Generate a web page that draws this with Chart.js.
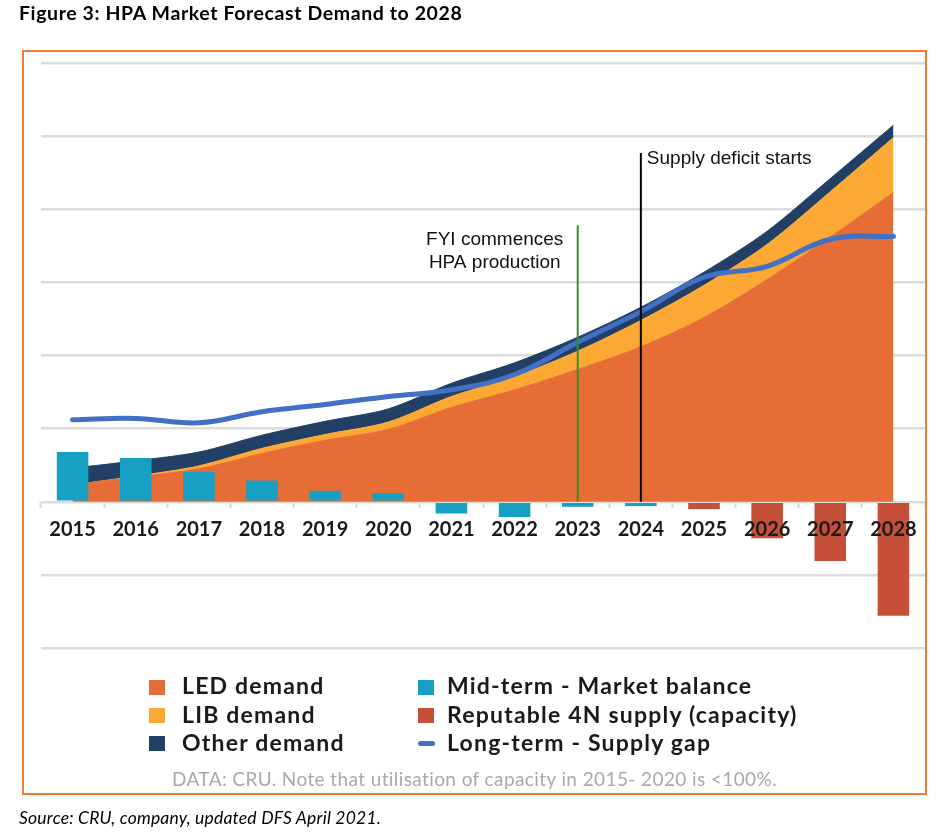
<!DOCTYPE html>
<html>
<head>
<meta charset="utf-8">
<script src="https://cdn.jsdelivr.net/npm/chart.js@4.4.1/dist/chart.umd.min.js"></script>
<style>
  html, body { margin: 0; padding: 0; background: #ffffff; }
  body { width: 948px; height: 833px; position: relative; overflow: hidden; font-family: Lato, "Open Sans", sans-serif; }
  #c { position: absolute; left: 0; top: 0; }
  .txt { position: absolute; white-space: nowrap; line-height: 1; }
  #frame { position: absolute; left: 22px; top: 50px; width: 905px; height: 745px; box-sizing: border-box; border: 2px solid #ED7D31; }
  #title { left: 19px; top: 3px; font-size: 19.5px; font-weight: 700; color: #000; letter-spacing: 0.6px; }
  #source { left: 19px; top: 809px; font-size: 17.5px; font-style: italic; color: #000; letter-spacing: 0.2px; }
  #note { left: 22px; width: 905px; text-align: center; top: 769px; font-size: 19px; color: #A9A9A9; letter-spacing: 0.4px; }
  .lg-text { position: absolute; white-space: nowrap; line-height: 1; font-size: 23px; font-weight: 700; color: #1a1a1a; letter-spacing: 1.2px; }
  .lg-box { position: absolute; }
</style>
</head>
<body>
<canvas id="c" width="948" height="833"></canvas>
<div id="frame"></div>
<div class="txt" id="title">Figure 3: HPA Market Forecast Demand to 2028</div>
<div id="legend"></div>
<div class="txt" id="note">DATA: CRU. Note that utilisation of capacity in 2015- 2020 is &lt;100%.</div>
<div class="txt" id="source">Source: CRU, company, updated DFS April 2021.</div>
<script>
// ---- data (one grid step = 1 unit) ----
const categories = ['2015','2016','2017','2018','2019','2020','2021','2022','2023','2024','2025','2026','2027','2028'];
const ledDemand   = [0.23, 0.34, 0.45, 0.66, 0.84, 0.99, 1.29, 1.53, 1.81, 2.12, 2.52, 3.04, 3.62, 4.23];
const libDemand   = [0.00, 0.01, 0.04, 0.07, 0.08, 0.10, 0.15, 0.18, 0.25, 0.36, 0.44, 0.48, 0.62, 0.75];
const otherDemand = [0.23, 0.21, 0.19, 0.18, 0.18, 0.18, 0.18, 0.19, 0.19, 0.18, 0.18, 0.18, 0.18, 0.17];
const midTermBalance  = [0.68, 0.60, 0.41, 0.29, 0.15, 0.12, -0.16, -0.21, -0.07, -0.06, null, null, null, null];
const reputableSupply = [null, null, null, null, null, null, null, null, null, null, -0.10, -0.50, -0.81, -1.56];
const supplyGap   = [1.12, 1.14, 1.08, 1.23, 1.33, 1.44, 1.53, 1.74, 2.18, 2.60, 3.07, 3.22, 3.59, 3.63];
const seriesLabels = ['LED demand', 'LIB demand', 'Other demand', 'Mid-term - Market balance', 'Reputable 4N supply (capacity)', 'Long-term - Supply gap'];
const markerYears = ['2023', '2024'];
const markerTops  = [3.78, 4.77];
const markerTexts = [['FYI commences', 'HPA production'], ['Supply deficit starts']];
const yTicksRange = [-2, 6];

// ---- styles ----
const colors = {
  led: '#E76D36', lib: '#FBA834', other: '#223F66',
  mid: '#16A0C3', rep: '#C64F39', gap: '#4170C4'
};
const markerStyles = [
  { color: '#3C8C2A', align: 'center', dx: -83, dy: 20 },
  { color: '#000000', align: 'left', dx: 6, dy: 11 }
];

const markersPlugin = {
  id: 'markers',
  afterDatasetsDraw(chart) {
    const { ctx, scales: { x, y } } = chart;
    markerYears.forEach((yr, i) => {
      const st = markerStyles[i];
      const px = x.getPixelForValue(categories.indexOf(yr));
      const top = y.getPixelForValue(markerTops[i]);
      const bottom = y.getPixelForValue(0);
      ctx.save();
      ctx.strokeStyle = st.color;
      ctx.lineWidth = 2;
      ctx.beginPath();
      ctx.moveTo(px, top);
      ctx.lineTo(px, bottom);
      ctx.stroke();
      ctx.fillStyle = '#111111';
      ctx.font = '19px "Liberation Sans", Arial, sans-serif';
      ctx.textAlign = st.align;
      ctx.textBaseline = 'alphabetic';
      markerTexts[i].forEach((t, k) => ctx.fillText(t, px + st.dx, top + st.dy + k * 23));
      ctx.restore();
    });
  }
};

const areaDs = (label, data, color, fill) => ({
  type: 'line', label, data, fill,
  backgroundColor: color, borderColor: color, borderWidth: 1,
  pointRadius: 0, pointHoverRadius: 0, tension: 0.3, order: 2, stack: 'demand'
});

new Chart(document.getElementById('c'), {
  type: 'bar',
  data: {
    labels: categories,
    datasets: [
      areaDs(seriesLabels[0], ledDemand, colors.led, 'origin'),
      areaDs(seriesLabels[1], libDemand, colors.lib, '-1'),
      areaDs(seriesLabels[2], otherDemand, colors.other, '-1'),
      { type: 'bar', label: seriesLabels[3], data: midTermBalance, backgroundColor: colors.mid,
        stack: 'balance', order: 1, categoryPercentage: 1, barPercentage: 0.5 },
      { type: 'bar', label: seriesLabels[4], data: reputableSupply, backgroundColor: colors.rep,
        stack: 'balance', order: 1, categoryPercentage: 1, barPercentage: 0.5 },
      { type: 'line', label: seriesLabels[5], data: supplyGap, borderColor: colors.gap, backgroundColor: colors.gap,
        borderWidth: 5, fill: false, pointRadius: 0, pointHoverRadius: 0, tension: 0.4,
        borderCapStyle: 'round', borderJoinStyle: 'round', stack: 'gap', order: 0 }
    ]
  },
  options: {
    responsive: false,
    animation: false,
    devicePixelRatio: 1,
    layout: { padding: { left: 41, right: 23, top: 63, bottom: 185 } },
    plugins: { legend: { display: false }, tooltip: { enabled: false }, title: { display: false } },
    scales: {
      x: {
        type: 'category', offset: true, position: { y: 0 },
        grid: { display: true, drawOnChartArea: false, drawTicks: true, tickLength: 6, tickWidth: 2, tickColor: '#D9D9D9', offset: true },
        border: { display: false },
        ticks: { z: 1, padding: 10, color: '#1a1a1a', autoSkip: false, maxRotation: 0,
          font: { family: 'Lato', weight: 'bold', size: 20 } }
      },
      y: {
        stacked: true, min: yTicksRange[0], max: yTicksRange[1],
        ticks: { display: false, stepSize: 1 },
        grid: { color: '#DCDCDC', lineWidth: 2.5, drawTicks: false },
        border: { display: false }
      }
    }
  },
  plugins: [markersPlugin]
});

// ---- HTML legend (two columns, three rows) ----
const legendItems = [
  { label: seriesLabels[0], color: colors.led, col: 0, row: 0, kind: 'box' },
  { label: seriesLabels[1], color: colors.lib, col: 0, row: 1, kind: 'box' },
  { label: seriesLabels[2], color: colors.other, col: 0, row: 2, kind: 'box' },
  { label: seriesLabels[3], color: colors.mid, col: 1, row: 0, kind: 'box' },
  { label: seriesLabels[4], color: colors.rep, col: 1, row: 1, kind: 'box' },
  { label: seriesLabels[5], color: colors.gap, col: 1, row: 2, kind: 'dash' }
];
const colBoxX = [149, 418], colTextX = [182, 447];
const rowBaseline = [694.7, 723, 751.3];
const legendEl = document.getElementById('legend');
legendItems.forEach(it => {
  const box = document.createElement('div');
  box.className = 'lg-box';
  box.style.left = colBoxX[it.col] + 'px';
  box.style.background = it.color;
  if (it.kind === 'box') {
    box.style.top = (rowBaseline[it.row] - 15) + 'px';
    box.style.width = '16px'; box.style.height = '15px';
  } else {
    box.style.top = (rowBaseline[it.row] - 10) + 'px';
    box.style.width = '17px'; box.style.height = '5px'; box.style.borderRadius = '3px';
  }
  legendEl.appendChild(box);
  const t = document.createElement('div');
  t.className = 'lg-text';
  t.textContent = it.label;
  t.style.left = colTextX[it.col] + 'px';
  t.style.top = (rowBaseline[it.row] - 0.887 * 23) + 'px';
  legendEl.appendChild(t);
});
</script>
</body>
</html>
